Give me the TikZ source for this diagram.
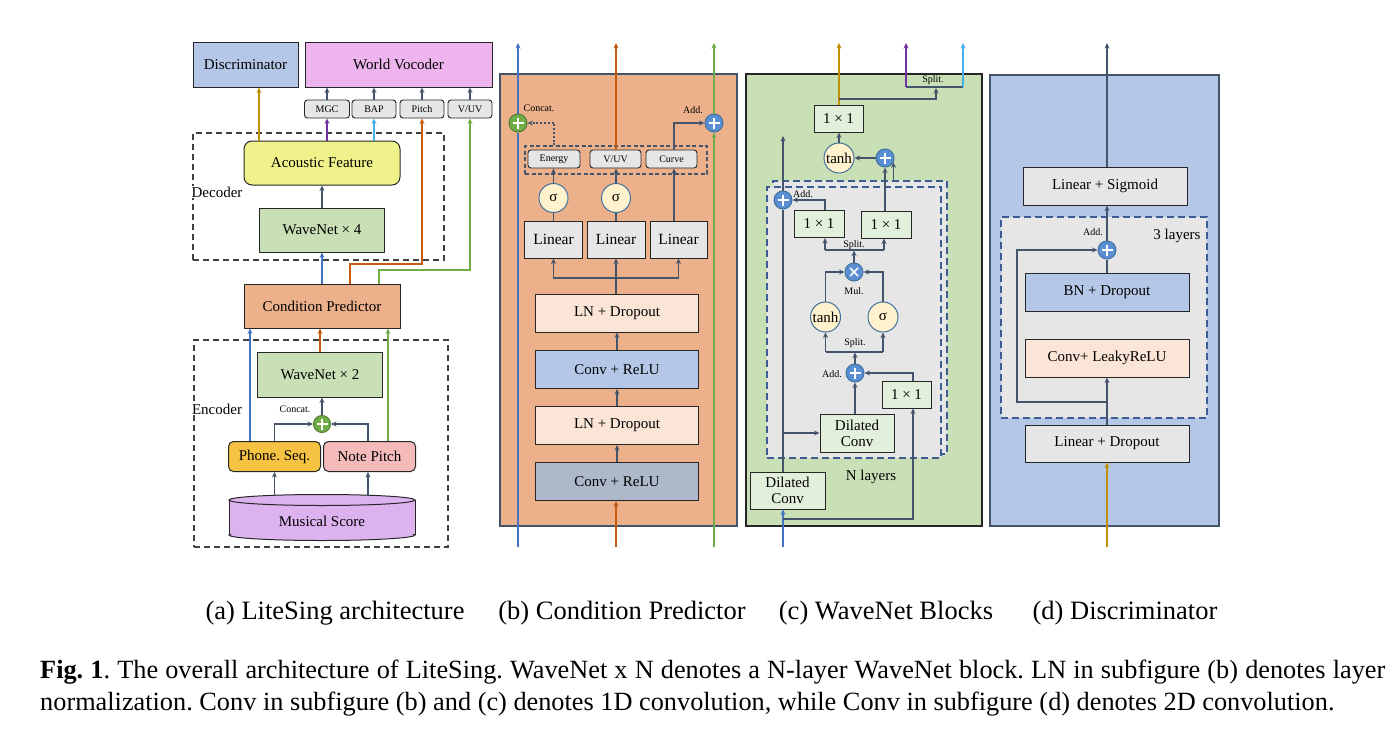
\documentclass[tikz,border=0pt]{standalone}
\usepackage{fontspec}
\setmainfont{Liberation Serif}
\usetikzlibrary{arrows.meta,calc}
\frenchspacing
\definecolor{cline}{HTML}{44546A}
\definecolor{cbord}{HTML}{262626}
\definecolor{cblue}{HTML}{4472C4}
\definecolor{corange}{HTML}{C55A11}
\definecolor{cgreen}{HTML}{70AD47}
\definecolor{cgreenb}{HTML}{507E32}
\definecolor{cgold}{HTML}{BF9000}
\definecolor{cpurple}{HTML}{7030A0}
\definecolor{clblue}{HTML}{45B0E8}
\definecolor{fdisc}{HTML}{B4C7E7}
\definecolor{fvoc}{HTML}{EEB4EE}
\definecolor{fyellow}{HTML}{F0F28C}
\definecolor{fgreen}{HTML}{C9E0B6}
\definecolor{fcp}{HTML}{ECB18B}
\definecolor{fphone}{HTML}{F6C242}
\definecolor{fnote}{HTML}{F5BABA}
\definecolor{fscore}{HTML}{DDB3EF}
\definecolor{fgray}{HTML}{E6E6E6}
\definecolor{fpeach}{HTML}{FBE5D6}
\definecolor{fconv}{HTML}{ADB9CA}
\definecolor{fcream}{HTML}{FFF2CC}
\definecolor{flgreen}{HTML}{E2EFDA}
\definecolor{fplus}{HTML}{5B8FD4}
\definecolor{cplusb}{HTML}{41719C}
\definecolor{cdash}{HTML}{3E5C94}
\begin{document}
\begin{tikzpicture}[x=1pt,y=-1pt,
  bx/.style={draw=cbord, line width=1pt, inner sep=0pt, align=center, font=\fontsize{15}{17}\selectfont},
  rbx/.style={bx, rounded corners=6pt},
  tag/.style={draw=cbord, line width=0.9pt, rounded corners=3pt, fill=fgray, inner sep=0pt, minimum height=18pt, font=\fontsize{10}{12}\selectfont},
  sml/.style={inner sep=0pt, font=\fontsize{10}{12}\selectfont},
  lbl/.style={inner sep=0pt, font=\fontsize{15}{17}\selectfont},
  arr/.style={draw=cline, line width=1.3pt, -{Stealth[length=5.5pt,width=5pt]}},
  ln/.style={draw=cline, line width=1.3pt},
  pluscirc/.style={circle, minimum size=18pt, inner sep=0pt, fill=fplus, draw=cplusb, line width=1pt,
    path picture={\draw[white,line width=1.6pt] ($(path picture bounding box.center)+(-5.5,0)$) -- ++(11,0) ($(path picture bounding box.center)+(0,-5.5)$) -- ++(0,11);}},
  mulcirc/.style={circle, minimum size=18pt, inner sep=0pt, fill=fplus, draw=cplusb, line width=1pt,
    path picture={\draw[white,line width=1.6pt] ($(path picture bounding box.center)+(-4,-4)$) -- ++(8,8) ($(path picture bounding box.center)+(-4,4)$) -- ++(8,-8);}},
  rc/.style={circle, inner sep=0pt, minimum size=30pt, fill=fcream, draw=cplusb, line width=1pt, font=\fontsize{15}{17}\selectfont},
  dsh/.style={draw=black!75, dash pattern=on 6pt off 4pt, line width=1.1pt, inner sep=0pt},
  bdsh/.style={draw=cdash, dash pattern=on 7pt off 4pt, line width=1.4pt, fill=fgray, inner sep=0pt},
  subcap/.style={font=\fontsize{26.5}{30}\selectfont, inner sep=0pt},
  figcap/.style={anchor=west, font=\fontsize{26.3}{30}\selectfont, inner sep=0pt},
]
\useasboundingbox (0,0) rectangle (1400,736);

% ================= (a) =================
\node[bx, fill=fdisc, minimum width=105pt, minimum height=45pt] (disc) at (245.5,64.5) {Discriminator};
\node[bx, fill=fvoc, minimum width=187pt, minimum height=45pt] (voc) at (398.5,64.5) {World Vocoder};
\node[tag, minimum width=45pt] (mgc) at (327,109) {MGC};
\node[tag, minimum width=44pt] (bap) at (374,109) {BAP};
\node[tag, minimum width=44pt] (pitch) at (422,109) {Pitch};
\node[tag, minimum width=44pt] (vuv) at (470,109) {V/UV};
\node[dsh, minimum width=251pt, minimum height=127pt] (dec) at (318.5,196.5) {};
\node[lbl, fill=white, inner sep=1pt] (declbl) at (217,192) {Decoder};
\node[rbx, fill=fyellow, minimum width=156pt, minimum height=44pt, rounded corners=8pt] (af) at (322,163) {Acoustic Feature};
\node[bx, fill=fgreen, minimum width=125pt, minimum height=44pt] (wn4) at (322,230) {WaveNet × 4};
\node[bx, fill=fcp, minimum width=156pt, minimum height=44pt] (cp) at (322,306) {Condition Predictor};
\node[dsh, minimum width=254pt, minimum height=207pt] (enc) at (321,443.5) {};
\node[lbl, fill=white, inner sep=1pt] (enclbl) at (217,409) {Encoder};
\node[bx, fill=fgreen, minimum width=125pt, minimum height=45pt] (wn2) at (320,374.5) {WaveNet × 2};
\node[pluscirc, fill=cgreen, draw=cgreenb, minimum size=17pt] (cat) at (322,424) {};
\node[sml] (catlbl) at (295,409) {Concat.};
\node[rbx, fill=fphone, minimum width=92pt, minimum height=30pt, rounded corners=5pt] (phone) at (274.5,456.5) {Phone. Seq.};
\node[rbx, fill=fnote, minimum width=92pt, minimum height=30pt, rounded corners=5pt] (note) at (369.5,456.5) {Note Pitch};
% cylinder
\draw[fill=fscore, draw=cbord, line width=1pt] (322,535) ellipse [x radius=93, y radius=5.5];
\fill[fscore] (229,500) rectangle (415,534);
\draw[cbord, line width=1pt] (229,500) -- (229,535) (415,500) -- (415,535);
\draw[fill=fscore, draw=cbord, line width=1pt] (322,500) ellipse [x radius=93, y radius=5.5];
\node[lbl] (score) at (322,521) {Musical Score};
\coordinate (scoretop) at (322,495.5);

\draw[arr] (mgc.north) -- (mgc.north |- voc.south);
\draw[arr] (bap.north) -- (bap.north |- voc.south);
\draw[arr] (pitch.north) -- (pitch.north |- voc.south);
\draw[arr] (vuv.north) -- (vuv.north |- voc.south);
\draw[arr, draw=cgold] (af.north -| 259,0) -- (disc.south -| 259,0);
\draw[arr, draw=cpurple] (af.north -| mgc) -- (mgc.south);
\draw[arr, draw=clblue] (af.north -| bap) -- (bap.south);
\draw[arr, draw=corange] (cp.north -| 350,0) -- (350,264) -| (pitch.south);
\draw[arr, draw=cgreen] (cp.north -| 379,0) -- (379,270) -| (vuv.south);
\draw[arr] (wn4.north) -- (af.south);
\draw[arr, draw=cblue] (cp.north -| wn4) -- (wn4.south);
\draw[arr, draw=corange] (wn2.north) -- (cp.south -| wn2);
\draw[arr] (cat.north) -- (wn2.south -| cat);
\draw[arr] (phone.north) |- (cat.west);
\draw[arr] (note.north -| 368,0) |- (cat.east);
\draw[arr, draw=cblue] (phone.north -| 250,0) -- (cp.south -| 250,0);
\draw[arr, draw=cgreen] (note.north -| 388,0) -- (cp.south -| 388,0);
\draw[arr] (scoretop -| phone) -- (phone.south);
\draw[arr] (scoretop -| 368,0) -- (note.south -| 368,0);

% ================= (b) =================
\node[draw=cline, line width=2pt, fill=fcp, minimum width=237pt, minimum height=452pt, inner sep=0pt] (pb) at (618.5,300) {};
\node[bx, fill=fconv, minimum width=163pt, minimum height=38pt] (cr1) at (617,481.5) {Conv + ReLU};
\node[bx, fill=fpeach, minimum width=163pt, minimum height=38pt] (ld1) at (617,425.5) {LN + Dropout};
\node[bx, fill=fdisc, minimum width=163pt, minimum height=38pt] (cr2) at (617,369.5) {Conv + ReLU};
\node[bx, fill=fpeach, minimum width=163pt, minimum height=38pt] (ld2) at (617,313) {LN + Dropout};
\node[bx, fill=fgray, minimum width=58pt, minimum height=37pt, font=\fontsize{15.5}{17}\selectfont] (lin1) at (553.5,239.5) {Linear};
\node[bx, fill=fgray, minimum width=58pt, minimum height=37pt, font=\fontsize{15.5}{17}\selectfont] (lin2) at (616,239.5) {Linear};
\node[bx, fill=fgray, minimum width=57pt, minimum height=37pt, font=\fontsize{15.5}{17}\selectfont] (lin3) at (678.5,239.5) {Linear};
\node[rc, minimum size=29pt] (sg1) at (553.5,198) {σ};
\node[rc, minimum size=29pt] (sg2) at (616,198) {σ};
\node[draw=cline, dash pattern=on 4pt off 2.5pt, line width=1.1pt, minimum width=182pt, minimum height=28pt, inner sep=0pt] (grp) at (616,160) {};
\node[tag, minimum width=52pt] (eng) at (554,159) {Energy};
\node[tag, minimum width=51pt] (vuvb) at (615.5,159) {V/UV};
\node[tag, minimum width=51pt] (crv) at (671.5,159) {Curve};
\node[pluscirc, fill=cgreen, draw=cgreenb] (catb) at (518,123) {};
\node[pluscirc] (addb) at (714,123) {};
\node[sml] (catblbl) at (539,108) {Concat.};
\node[sml] (addblbl) at (693,110) {Add.};
\coordinate (bbi) at (518,547); \coordinate (bbo) at (518,43);
\coordinate (boi) at (616,547); \coordinate (boo) at (616,43);
\coordinate (bgi) at (714,547); \coordinate (bgo) at (714,43);
\draw[ln, draw=cblue] (bbi) -- (catb.south);
\draw[arr, draw=cblue] (catb.north) -- (bbo);
\draw[arr, draw=corange] (boi) -- (cr1.south -| boi);
\draw[arr, draw=corange] (vuvb.north -| boo) -- (boo);
\draw[arr, draw=cgreen] (bgi) -- (addb.south);
\draw[arr, draw=cgreen] (addb.north) -- (bgo);
\draw[arr] (cr1.north) -- (ld1.south);
\draw[arr] (ld1.north) -- (cr2.south);
\draw[arr] (cr2.north) -- (ld2.south);
\draw[ln] (ld2.north -| lin2) -- (lin2.south |- 0,278);
\draw[arr] (lin2.south |- 0,278) -- (lin2.south);
\draw[arr] (lin2.south |- 0,278) -| (lin1.south);
\draw[arr] (lin2.south |- 0,278) -| (lin3.south);
\draw[ln] (lin1.north) -- (sg1.south);
\draw[arr] (sg1.north) -- (eng.south -| sg1);
\draw[ln] (lin2.north) -- (sg2.south);
\draw[arr] (sg2.north) -- (vuvb.south -| sg2);
\draw[arr] (lin3.north -| 674,0) -- (crv.south -| 674,0);
\draw[arr] (crv.north -| 674,0) |- (addb.west);
\draw[arr, dash pattern=on 2pt off 1.8pt] (grp.north -| eng) |- (catb.east);

% ================= (c) =================
\node[draw=black!85, line width=1.5pt, fill=fgreen, minimum width=236pt, minimum height=452pt, inner sep=0pt] (pc) at (864,300) {};
\node[bdsh, minimum width=174pt, minimum height=273pt] (nl2) at (860,317.5) {};
\node[bdsh, minimum width=174pt, minimum height=271pt] (nl1) at (854,322.5) {};
\node[bx, fill=flgreen, minimum width=49pt, minimum height=27pt] (o11) at (838.5,118.5) {1 × 1};
\node[rc] (th1) at (839,158) {tanh};
\node[pluscirc] (addt) at (885,158) {};
\node[pluscirc] (addl) at (783,200) {};
\node[bx, fill=flgreen, minimum width=50pt, minimum height=27pt] (a11) at (819,224) {1 × 1};
\node[bx, fill=flgreen, minimum width=50pt, minimum height=27pt] (b11) at (886,224.5) {1 × 1};
\node[mulcirc] (mul) at (854,272) {};
\node[rc] (th2) at (825.5,317) {tanh};
\node[rc] (sg3) at (883,317) {σ};
\node[pluscirc] (addm) at (855,373) {};
\node[bx, fill=flgreen, minimum width=74pt, minimum height=38pt, font=\fontsize{15}{16}\selectfont] (dci) at (857,433) {Dilated\\Conv};
\node[bx, fill=flgreen, minimum width=49pt, minimum height=27pt] (c11) at (906.5,394.5) {1 × 1};
\node[bx, fill=flgreen, minimum width=75pt, minimum height=37pt, font=\fontsize{15}{16}\selectfont] (dco) at (787.5,490.5) {Dilated\\Conv};
\node[sml] (splt1) at (933,80) {Split.};
\node[sml] (addl1) at (803,194) {Add.};
\node[sml] (splt2) at (854,245) {Split.};
\node[sml] (mull) at (854,291) {Mul.};
\node[sml] (splt3) at (855,343) {Split.};
\node[sml] (addl2) at (832,374) {Add.};
\node[lbl] (nlay) at (871,477) {N layers};
\coordinate (cin) at (783,547);
\coordinate (spl) at (906,87); \coordinate (spr) at (963,87);
\draw[arr, draw=cblue] (cin) -- (dco.south -| cin);
\draw[arr] (cin |- 0,519) -| (c11.south -| 913,0);
\draw[ln] (dco.north -| addl) -- (addl.south);
\draw[arr] (addl.north) -- (addl.north |- 0,136);
\draw[arr] (dci.west -| addl) -- (dci.west);
\draw[arr] (dci.north -| addm) -- (addm.south);
\draw[arr] (c11.north -| 913,0) |- (addm.east);
\draw[arr] (addm.north) -- (addm.north |- 0,352.5);
\draw[ln] (th2.south |- 0,352) -- (sg3.south |- 0,352);
\draw[arr] (th2.south |- 0,352) -- (th2.south);
\draw[arr] (sg3.south |- 0,352) -- (sg3.south);
\draw[arr] (th2.north) |- (mul.west);
\draw[arr] (sg3.north) |- (mul.east);
\draw[arr] (mul.north) -- (mul.north |- 0,250.5);
\draw[ln] (825,250) -- (884,250);
\draw[arr] (825,250) -- (a11.south -| 825,0);
\draw[arr] (884,250) -- (b11.south -| 884,0);
\draw[arr] (a11.north -| 825,0) |- (addl.east);
\draw[arr] (b11.north -| addt) -- (addt.south);
\draw[arr] (addt.-27 |- 0,181) -- (addt.-27);
\draw[arr] (addt.west) -- (th1.east);
\draw[arr] (th1.north) -- (o11.south -| th1);
\draw[arr, draw=cgold] (o11.north -| th1) -- (th1 |- 0,43);
\draw[arr] (th1 |- 0,99) -| (936,88);
\draw[ln] (spl) -- (spr);
\draw[arr, draw=cpurple] (spl) -- (spl |- 0,43);
\draw[arr, draw=clblue] (spr) -- (spr |- 0,43);

% ================= (d) =================
\node[draw=cline, line width=2pt, fill=fdisc, minimum width=229pt, minimum height=451pt, inner sep=0pt] (pd) at (1104.5,300) {};
\node[bdsh, minimum width=206pt, minimum height=201pt] (tl) at (1104,317.5) {};
\node[bx, fill=fgray, minimum width=164pt, minimum height=38pt] (lsg) at (1105,186) {Linear + Sigmoid};
\node[pluscirc] (ad) at (1107,250) {};
\node[bx, fill=fdisc, minimum width=164pt, minimum height=38pt] (bn) at (1107,292) {BN + Dropout};
\node[bx, fill=fpeach, minimum width=164pt, minimum height=38pt] (cvl) at (1107,358) {Conv+ LeakyReLU};
\node[bx, fill=fgray, minimum width=164pt, minimum height=37pt] (lnd) at (1107,443.5) {Linear + Dropout};
\node[sml] (addd) at (1093,232) {Add.};
\node[lbl] (thrl) at (1177,236) {3 layers};
\coordinate (din) at (1107,547);
\draw[arr, draw=cgold] (din) -- (lnd.south);
\draw[arr] (lnd.north) -- (cvl.south);
\draw[arr] (lnd.north |- 0,402) -| (ad.west -| 1017,0) -- (ad.west);
\draw[ln] (bn.north) -- (ad.south);
\draw[arr] (ad.north) -- (ad |- lsg.south);
\draw[arr] (ad |- lsg.north) -- (ad |- 0,43);

% ================= captions =================
\node[subcap] (capa) at (335,613) {(a) LiteSing architecture};
\node[subcap] (capb) at (622,613) {(b) Condition Predictor};
\node[subcap] (capc) at (886,613) {(c) WaveNet Blocks};
\node[subcap] (capd) at (1125,613) {(d) Discriminator};
\node[figcap] (cap1) at (40,672) {\hbox to 1345pt{\textbf{Fig. 1}. The overall architecture of LiteSing. WaveNet x N denotes a N-layer WaveNet block. LN in subfigure (b) denotes layer}};
\node[figcap] (cap2) at (40,704) {normalization. Conv in subfigure (b) and (c) denotes 1D convolution, while Conv in subfigure (d) denotes 2D convolution.};
\end{tikzpicture}
\end{document}
